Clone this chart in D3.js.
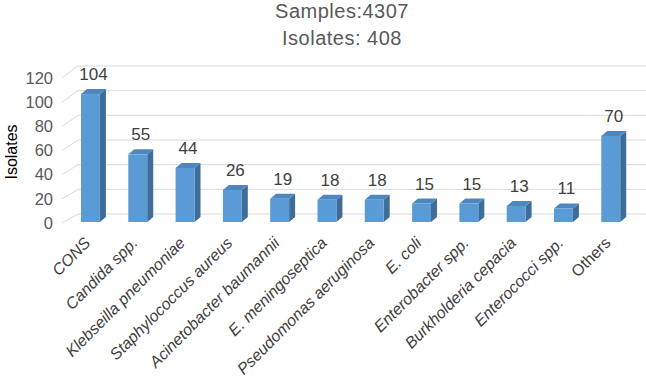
<!DOCTYPE html>
<html>
<head>
<meta charset="utf-8">
<script src="https://cdn.jsdelivr.net/npm/d3@7/dist/d3.min.js"></script>
<style>
  body { margin: 0; background: #fff; }
  svg { display: block; font-family: "Liberation Sans", Arial, sans-serif; }
</style>
</head>
<body>
<div id="chart"></div>
<script>
let titleLines = ["Samples:4307", "Isolates: 408"]
let categories = ["CONS", "Candida spp.", "Klebseilla pneumoniae", "Staphylococcus aureus",
  "Acinetobacter baumannii", "E. meningoseptica", "Pseudomonas aeruginosa", "E. coli",
  "Enterobacter spp.", "Burkholderia cepacia", "Enterococci spp.", "Others"]
let values = [104, 55, 44, 26, 19, 18, 18, 15, 15, 13, 11, 70]
let yTicks = [0, 20, 40, 60, 80, 100, 120]

let width = 646, height = 381
let depthX = 6, depthY = 5

let svg = d3.select("#chart").append("svg")
  .attr("width", width)
  .attr("height", height)

let x = d3.scaleBand()
  .domain(categories)
  .range([66.8, 634.4])
  .paddingInner(0.6)
  .paddingOuter(0.3)

// bars sit on the middle plane, gridlines on the back wall, labels on the front edge
let y = d3.scaleLinear().domain([0, 120]).range([222, 74.4])
let yWall = d3.scaleLinear().domain([0, 120]).range([214, 66])
let yEdge = d3.scaleLinear().domain([0, 120]).range([223, 78])

// title
svg.append("g")
  .selectAll("text")
  .data(titleLines)
  .join("text")
  .attr("x", 342)
  .attr("y", (d, i) => 18 + i * 27)
  .attr("text-anchor", "middle")
  .attr("font-size", "20px")
  .attr("letter-spacing", "0.5px")
  .attr("fill", "#595959")
  .text(d => d)

// gridlines + the little slanted ticks on the left wall
let grid = svg.append("g").attr("class", "grid")
grid.selectAll(".wall")
  .data(yTicks)
  .join("line")
  .attr("class", "wall")
  .attr("x1", 78).attr("x2", width)
  .attr("y1", d => yWall(d)).attr("y2", d => yWall(d))
  .attr("stroke", "#d9d9d9")
  .attr("stroke-width", 1)
grid.selectAll(".slant")
  .data(yTicks)
  .join("line")
  .attr("class", "slant")
  .attr("x1", 62).attr("x2", 78)
  .attr("y1", d => yEdge(d)).attr("y2", d => yWall(d))
  .attr("stroke", "#d9d9d9")
  .attr("stroke-width", 1)

// y axis labels
svg.append("g")
  .attr("transform", "translate(56,0)")
  .call(d3.axisLeft(yEdge).tickValues(yTicks).tickSize(0).tickPadding(3))
  .call(g => g.select(".domain").remove())
  .call(g => g.selectAll("text")
    .attr("font-size", "16.5px")
    .attr("font-family", "Liberation Sans, Arial, sans-serif")
    .attr("fill", "#595959"))

svg.append("text")
  .attr("transform", "translate(16.5,152) rotate(-90)")
  .attr("text-anchor", "middle")
  .attr("font-size", "16px")
  .attr("fill", "#000")
  .text("Isolates")

// 3d bars
let bars = svg.append("g")
  .selectAll(".bar")
  .data(values)
  .join("g")
  .attr("class", "bar")

let bw = x.bandwidth()

bars.append("polygon")
  .attr("points", (d, i) => {
    let x0 = x(categories[i]), yt = y(d), yb = y(0)
    return [[x0 + bw, yt], [x0 + bw + depthX, yt - depthY], [x0 + bw + depthX, yb - depthY], [x0 + bw, yb]].join(" ")
  })
  .attr("fill", "#3e6d9a")

bars.append("polygon")
  .attr("points", (d, i) => {
    let x0 = x(categories[i]), yt = y(d)
    return [[x0, yt], [x0 + depthX, yt - depthY], [x0 + bw + depthX, yt - depthY], [x0 + bw, yt]].join(" ")
  })
  .attr("fill", "#4e87c0")

bars.append("rect")
  .attr("x", (d, i) => x(categories[i]))
  .attr("y", d => y(d))
  .attr("width", bw)
  .attr("height", d => y(0) - y(d))
  .attr("fill", "#5b9bd5")

// value labels
bars.append("text")
  .attr("x", (d, i) => x(categories[i]) + bw / 2 + depthX / 2)
  .attr("y", d => y(d) - 14)
  .attr("text-anchor", "middle")
  .attr("font-size", "17px")
  .attr("fill", "#404040")
  .text(d => d)

// category labels, rotated
svg.append("g")
  .selectAll("text")
  .data(categories)
  .join("text")
  .attr("transform", d => `translate(${x(d) + bw / 2 - 3},240) rotate(-45)`)
  .attr("text-anchor", "end")
  .attr("dy", "0.35em")
  .attr("font-size", "16px")
  .attr("font-style", d => d === "Others" ? "normal" : "italic")
  .attr("fill", "#404040")
  .text(d => d)
</script>
</body>
</html>
